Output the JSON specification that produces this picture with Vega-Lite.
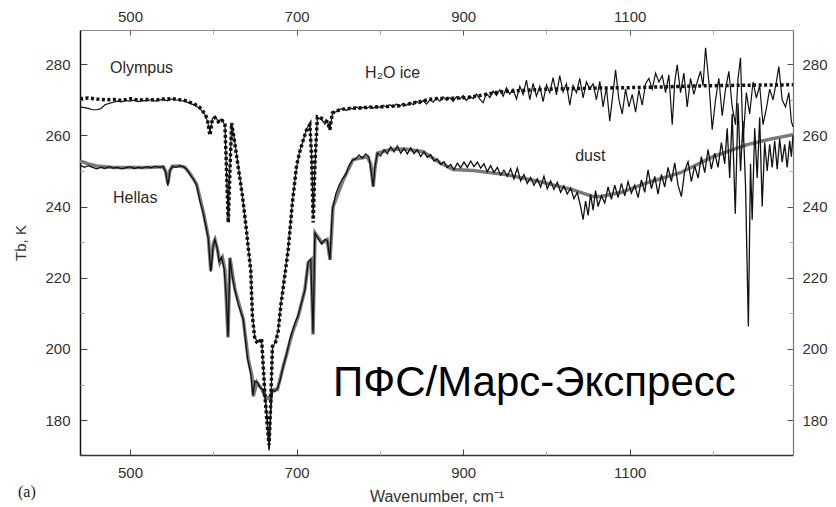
{
  "$schema": "https://vega.github.io/schema/vega-lite/v6.json",
  "width": 713,
  "height": 425,
  "autosize": {"type": "none"},
  "padding": {"left": 80, "top": 30, "right": 43, "bottom": 52},
  "background": "white",
  "config": {
    "view": {"stroke": null},
    "font": "Liberation Sans",
    "axis": {"grid": false, "labelFont": "Liberation Sans", "labelFontSize": 15, "labelColor": "#333", "titleFont": "Liberation Sans", "titleFontSize": 15, "titleFontWeight": "normal", "titleColor": "#333", "format": "d"}
  },
  "datasets": {
    "om": [
      {"w":440,"t":270.3},{"w":450,"t":270.5},{"w":460,"t":270.2},{"w":470,"t":270.0},{"w":480,"t":270.1},{"w":490,"t":269.8},{"w":500,"t":270.3},{"w":510,"t":269.9},{"w":520,"t":270.1},{"w":530,"t":269.9},{"w":540,"t":270.2},{"w":550,"t":270.3},{"w":560,"t":270.0},{"w":566,"t":269.8},{"w":572,"t":269.3},{"w":578,"t":268.7},{"w":584,"t":267.8},{"w":590,"t":266.0},{"w":593,"t":264.5},{"w":596,"t":260.0},{"w":599,"t":264.5},{"w":602,"t":265.0},{"w":606,"t":263.8},{"w":610,"t":264.5},{"w":614,"t":263.0},{"w":616,"t":250.0},{"w":618,"t":235.5},{"w":620,"t":250.0},{"w":622,"t":263.5},{"w":625,"t":259.0},{"w":630,"t":251.0},{"w":635,"t":243.0},{"w":640,"t":233.0},{"w":642,"t":228.3},{"w":645,"t":222.0},{"w":647,"t":209.0},{"w":650,"t":202.5},{"w":654,"t":201.5},{"w":658,"t":203.0},{"w":662,"t":187.0},{"w":665,"t":178.0},{"w":667,"t":173.0},{"w":669,"t":185.0},{"w":671,"t":200.7},{"w":675,"t":202.0},{"w":678,"t":205.0},{"w":681,"t":212.0},{"w":685,"t":219.0},{"w":690,"t":228.0},{"w":695,"t":241.0},{"w":700,"t":251.5},{"w":704,"t":255.5},{"w":708,"t":258.7},{"w":712,"t":261.5},{"w":716,"t":263.0},{"w":718,"t":254.0},{"w":720,"t":235.5},{"w":722,"t":252.0},{"w":725,"t":265.2},{"w":730,"t":264.8},{"w":737,"t":263.8},{"w":740,"t":261.6},{"w":743,"t":266.3},{"w":748,"t":266.8},{"w":752,"t":267.2},{"w":760,"t":267.5},{"w":780,"t":267.8},{"w":800,"t":268.0},{"w":824,"t":268.3},{"w":844,"t":269.3},{"w":864,"t":270.3},{"w":885,"t":270.4},{"w":905,"t":270.6},{"w":925,"t":271.4},{"w":944,"t":272.2},{"w":964,"t":272.5},{"w":984,"t":272.8},{"w":1005,"t":273.0},{"w":1025,"t":273.1},{"w":1045,"t":273.2},{"w":1065,"t":273.3},{"w":1100,"t":273.4},{"w":1137,"t":273.6},{"w":1185,"t":273.9},{"w":1240,"t":274.1},{"w":1296,"t":274.2}
    ],
    "ox": [
      {"w":440,"t":268.0},{"w":445,"t":267.8},{"w":450,"t":267.6},{"w":455,"t":267.2},{"w":460,"t":267.2},{"w":465,"t":267.5},{"w":470,"t":268.6},{"w":475,"t":269.0},{"w":480,"t":269.3},{"w":485,"t":269.6},{"w":490,"t":269.4},{"w":495,"t":269.8},{"w":500,"t":269.6},{"w":505,"t":269.9},{"w":510,"t":269.5},{"w":515,"t":269.8},{"w":520,"t":269.7},{"w":525,"t":270.0},{"w":530,"t":269.6},{"w":535,"t":269.9},{"w":540,"t":270.1},{"w":545,"t":269.7},{"w":550,"t":270.2},{"w":555,"t":270.0},{"w":560,"t":269.8},{"w":566,"t":269.6},{"w":572,"t":269.0},{"w":578,"t":268.5},{"w":584,"t":267.5},{"w":590,"t":265.8},{"w":593,"t":264.0},{"w":596,"t":261.0},{"w":599,"t":264.8},{"w":602,"t":265.3},{"w":606,"t":264.0},{"w":610,"t":264.6},{"w":614,"t":262.8},{"w":616,"t":249.0},{"w":618,"t":237.0},{"w":620,"t":251.0},{"w":622,"t":263.0},{"w":625,"t":259.5},{"w":630,"t":251.5},{"w":635,"t":243.0},{"w":640,"t":233.0},{"w":642,"t":228.5},{"w":645,"t":222.5},{"w":647,"t":210.0},{"w":650,"t":203.0},{"w":654,"t":202.0},{"w":658,"t":202.5},{"w":662,"t":188.0},{"w":665,"t":178.5},{"w":667,"t":172.0},{"w":669,"t":184.0},{"w":671,"t":200.0},{"w":675,"t":202.5},{"w":678,"t":205.5},{"w":681,"t":212.5},{"w":685,"t":219.5},{"w":690,"t":228.5},{"w":695,"t":241.5},{"w":700,"t":251.0},{"w":704,"t":255.8},{"w":708,"t":258.5},{"w":712,"t":261.8},{"w":716,"t":263.3},{"w":718,"t":255.0},{"w":720,"t":237.0},{"w":722,"t":251.0},{"w":725,"t":265.0},{"w":730,"t":264.5},{"w":734,"t":263.2},{"w":737,"t":264.0},{"w":740,"t":261.8},{"w":743,"t":266.0},{"w":747,"t":266.6},{"w":752,"t":267.3},
      {"w":756,"t":267.6},{"w":760,"t":267.0},{"w":764,"t":267.8},{"w":768,"t":267.4},{"w":772,"t":268.0},{"w":776,"t":267.3},{"w":780,"t":267.9},{"w":784,"t":267.5},{"w":788,"t":268.2},{"w":792,"t":267.6},{"w":796,"t":268.3},{"w":800,"t":267.8},{"w":804,"t":268.5},{"w":808,"t":267.9},{"w":812,"t":268.6},{"w":816,"t":268.0},{"w":820,"t":268.8},{"w":824,"t":268.2},{"w":828,"t":269.0},{"w":832,"t":268.4},{"w":836,"t":269.3},{"w":840,"t":268.6},{"w":844,"t":269.5},{"w":848,"t":268.9},{"w":852,"t":269.8},{"w":856,"t":268.8},{"w":860,"t":270.0},{"w":864,"t":269.3},{"w":868,"t":270.6},{"w":872,"t":269.6},{"w":876,"t":270.8},{"w":880,"t":269.9},{"w":884,"t":270.6},{"w":888,"t":269.5},{"w":892,"t":270.9},{"w":896,"t":270.2},{"w":900,"t":271.2},{"w":904,"t":269.8},{"w":908,"t":271.0},{"w":912,"t":270.3},{"w":916,"t":271.6},{"w":920,"t":270.2},{"w":924,"t":269.2},{"w":928,"t":271.8},{"w":932,"t":270.6},{"w":936,"t":272.4},{"w":940,"t":271.2},{"w":944,"t":272.8},{"w":948,"t":271.0},{"w":952,"t":273.4},{"w":956,"t":271.6},{"w":960,"t":273.0},{"w":964,"t":270.2},{"w":968,"t":273.8},{"w":972,"t":271.5},{"w":976,"t":275.5},{"w":980,"t":270.0},{"w":984,"t":274.6},{"w":988,"t":271.0},{"w":992,"t":273.8},{"w":996,"t":269.5},{"w":1000,"t":274.2},{"w":1004,"t":272.0},{"w":1008,"t":276.2},{"w":1012,"t":271.4},{"w":1016,"t":276.8},{"w":1020,"t":272.2},{"w":1024,"t":274.5},{"w":1028,"t":268.5},{"w":1032,"t":274.0},{"w":1036,"t":272.0},{"w":1040,"t":276.0},{"w":1044,"t":270.5},{"w":1048,"t":275.0},{"w":1052,"t":273.0},{"w":1056,"t":274.5},{"w":1060,"t":270.0},{"w":1064,"t":275.2},{"w":1068,"t":268.0},{"w":1072,"t":273.5},{"w":1076,"t":264.0},{"w":1080,"t":272.0},{"w":1083,"t":278.4},{"w":1087,"t":270.0},{"w":1091,"t":266.0},{"w":1095,"t":273.0},{"w":1099,"t":268.0},{"w":1103,"t":271.5},{"w":1107,"t":266.5},{"w":1111,"t":272.8},{"w":1115,"t":268.5},{"w":1119,"t":274.5},{"w":1123,"t":276.0},{"w":1127,"t":273.0},{"w":1131,"t":277.5},{"w":1135,"t":275.0},{"w":1139,"t":276.8},{"w":1143,"t":272.0},{"w":1147,"t":277.0},{"w":1151,"t":263.0},{"w":1154,"t":275.0},{"w":1157,"t":279.8},{"w":1161,"t":272.0},{"w":1165,"t":277.5},{"w":1169,"t":268.0},{"w":1173,"t":276.0},{"w":1177,"t":271.5},{"w":1181,"t":275.0},{"w":1185,"t":278.0},{"w":1188,"t":274.0},{"w":1191,"t":284.6},{"w":1195,"t":275.0},{"w":1199,"t":261.6},{"w":1203,"t":270.0},{"w":1207,"t":276.0},{"w":1211,"t":265.5},{"w":1215,"t":273.0},{"w":1219,"t":278.0},{"w":1223,"t":268.0},{"w":1227,"t":263.0},{"w":1230,"t":276.0},{"w":1233,"t":281.8},{"w":1236,"t":258.0},{"w":1240,"t":272.0},{"w":1244,"t":266.0},{"w":1248,"t":275.0},{"w":1252,"t":270.5},{"w":1256,"t":274.0},{"w":1260,"t":263.0},{"w":1264,"t":267.5},{"w":1268,"t":273.0},{"w":1272,"t":270.0},{"w":1276,"t":275.0},{"w":1279,"t":279.3},{"w":1283,"t":270.0},{"w":1287,"t":268.0},{"w":1291,"t":272.0},{"w":1294,"t":264.0},{"w":1296,"t":262.4}
    ],
    "hm": [
      {"w":440,"t":252.8},{"w":450,"t":252.0},{"w":460,"t":251.4},{"w":470,"t":251.2},{"w":480,"t":251.0},{"w":500,"t":251.0},{"w":520,"t":251.0},{"w":540,"t":251.2},{"w":543,"t":249.8},{"w":545.5,"t":246.5},{"w":548,"t":250.2},{"w":551,"t":251.3},{"w":560,"t":251.4},{"w":566,"t":251.0},{"w":572,"t":249.3},{"w":580,"t":246.3},{"w":588,"t":238.5},{"w":594,"t":231.5},{"w":597,"t":222.0},{"w":600,"t":229.5},{"w":602,"t":230.7},{"w":605,"t":228.0},{"w":608,"t":224.2},{"w":611,"t":225.6},{"w":614,"t":222.2},{"w":617.7,"t":203.2},{"w":620,"t":225.6},{"w":626,"t":216.7},{"w":636,"t":208.3},{"w":642,"t":197.1},{"w":646.5,"t":192.3},{"w":648,"t":186.7},{"w":652.5,"t":190.6},{"w":658.6,"t":188.6},{"w":662,"t":186.7},{"w":667,"t":186.0},{"w":670,"t":187.7},{"w":673,"t":188.6},{"w":677,"t":188.6},{"w":684,"t":195.0},{"w":695,"t":204.6},{"w":702,"t":209.1},{"w":710,"t":216.7},{"w":714,"t":224.2},{"w":717.4,"t":225.0},{"w":719.8,"t":204.0},{"w":722.2,"t":232.6},{"w":730.6,"t":229.8},{"w":736.6,"t":230.7},{"w":740.2,"t":225.1},{"w":743.8,"t":240.0},{"w":756,"t":247.5},{"w":768,"t":253.2},{"w":785,"t":254.0},{"w":789,"t":252.0},{"w":792,"t":245.6},{"w":794,"t":250.5},{"w":797,"t":255.0},{"w":812,"t":256.0},{"w":830,"t":256.2},{"w":852,"t":255.4},{"w":872,"t":252.3},{"w":888,"t":250.4},{"w":912,"t":250.1},{"w":953,"t":248.9},{"w":992,"t":247.0},{"w":1032,"t":244.7},{"w":1056,"t":242.8},{"w":1065,"t":242.8},{"w":1090,"t":244.0},{"w":1121,"t":246.7},{"w":1161,"t":249.5},{"w":1200,"t":254.0},{"w":1241,"t":257.4},{"w":1270,"t":259.0},{"w":1296,"t":260.2}
    ],
    "hx": [
      {"w":440,"t":251.7},{"w":445,"t":251.0},{"w":450,"t":251.5},{"w":455,"t":251.0},{"w":460,"t":250.6},{"w":465,"t":251.0},{"w":470,"t":250.7},{"w":475,"t":251.2},{"w":480,"t":250.8},{"w":485,"t":251.0},{"w":490,"t":250.6},{"w":495,"t":250.9},{"w":500,"t":251.2},{"w":505,"t":250.7},{"w":510,"t":251.0},{"w":515,"t":250.8},{"w":520,"t":251.2},{"w":525,"t":250.9},{"w":530,"t":251.3},{"w":535,"t":251.0},{"w":540,"t":251.2},{"w":543,"t":249.5},{"w":545.5,"t":245.8},{"w":548,"t":250.0},{"w":551,"t":251.3},{"w":555,"t":251.0},{"w":560,"t":251.5},{"w":564,"t":251.2},{"w":568,"t":250.5},{"w":572,"t":249.0},{"w":576,"t":247.8},{"w":580,"t":246.0},{"w":584,"t":241.5},{"w":588,"t":238.0},{"w":591,"t":234.5},{"w":594,"t":231.0},{"w":597,"t":221.7},{"w":600,"t":229.0},{"w":602,"t":230.7},{"w":604.5,"t":228.5},{"w":607,"t":224.5},{"w":610,"t":225.8},{"w":613,"t":222.5},{"w":615.5,"t":215.0},{"w":617.7,"t":203.5},{"w":620,"t":225.5},{"w":623,"t":220.0},{"w":626,"t":216.5},{"w":630,"t":212.5},{"w":636,"t":208.3},{"w":641,"t":197.5},{"w":645,"t":193.0},{"w":647.7,"t":187.0},{"w":650,"t":191.0},{"w":653,"t":190.5},{"w":656,"t":189.2},{"w":659,"t":188.5},{"w":662,"t":186.5},{"w":665,"t":180.0},{"w":667,"t":171.5},{"w":669,"t":182.0},{"w":671,"t":188.5},{"w":674,"t":188.0},{"w":677,"t":188.8},{"w":680,"t":191.0},{"w":684,"t":195.2},{"w":688,"t":198.5},{"w":692,"t":202.8},{"w":695,"t":205.0},{"w":698,"t":207.2},{"w":702,"t":209.5},{"w":706,"t":213.0},{"w":710,"t":216.5},{"w":714,"t":224.5},{"w":717,"t":225.2},{"w":719.8,"t":204.5},{"w":722,"t":232.5},{"w":726,"t":231.0},{"w":730,"t":229.5},{"w":734,"t":230.8},{"w":737,"t":230.5},{"w":740,"t":225.0},{"w":743,"t":239.0},{"w":747,"t":243.5},{"w":751,"t":246.0},{"w":755,"t":247.8},{"w":759,"t":249.0},{"w":763,"t":251.5},{"w":767,"t":253.0},{"w":771,"t":253.4},{"w":775,"t":254.5},{"w":779,"t":253.6},{"w":783,"t":254.8},{"w":787,"t":253.9},{"w":790,"t":249.0},{"w":792,"t":245.6},{"w":794,"t":251.0},{"w":797,"t":255.0},{"w":801,"t":254.2},{"w":805,"t":256.0},{"w":809,"t":254.8},{"w":813,"t":256.8},{"w":817,"t":255.3},{"w":821,"t":257.0},{"w":825,"t":255.0},{"w":829,"t":256.3},{"w":833,"t":254.8},{"w":837,"t":256.5},{"w":841,"t":254.9},{"w":845,"t":256.0},{"w":849,"t":254.0},{"w":853,"t":255.4},{"w":857,"t":253.8},{"w":861,"t":254.6},{"w":865,"t":252.8},{"w":869,"t":253.4},{"w":873,"t":251.8},{"w":877,"t":252.6},{"w":881,"t":251.0},{"w":885,"t":251.8},{"w":889,"t":250.4},{"w":893,"t":252.2},{"w":897,"t":250.9},{"w":901,"t":252.5},{"w":905,"t":251.0},{"w":909,"t":252.8},{"w":913,"t":251.2},{"w":917,"t":252.5},{"w":921,"t":250.8},{"w":925,"t":252.0},{"w":929,"t":249.8},{"w":933,"t":251.5},{"w":937,"t":249.6},{"w":941,"t":251.0},{"w":945,"t":248.8},{"w":949,"t":250.2},{"w":953,"t":248.5},{"w":957,"t":250.6},{"w":961,"t":247.8},{"w":965,"t":250.8},{"w":969,"t":247.2},{"w":973,"t":249.0},{"w":977,"t":246.5},{"w":981,"t":248.2},{"w":985,"t":246.0},{"w":989,"t":247.8},{"w":993,"t":245.5},{"w":997,"t":248.5},{"w":1001,"t":245.0},{"w":1005,"t":247.2},{"w":1009,"t":244.8},{"w":1013,"t":246.8},{"w":1017,"t":244.0},{"w":1021,"t":245.8},{"w":1025,"t":243.5},{"w":1029,"t":245.2},{"w":1033,"t":242.2},{"w":1037,"t":244.0},{"w":1041,"t":240.0},{"w":1044,"t":236.3},{"w":1047,"t":241.5},{"w":1050,"t":237.5},{"w":1053,"t":243.5},{"w":1056,"t":239.0},{"w":1059,"t":244.5},{"w":1062,"t":240.0},{"w":1066,"t":243.0},{"w":1070,"t":241.0},{"w":1074,"t":245.5},{"w":1078,"t":242.0},{"w":1082,"t":246.0},{"w":1086,"t":242.5},{"w":1090,"t":246.5},{"w":1094,"t":243.0},{"w":1098,"t":247.0},{"w":1102,"t":243.8},{"w":1106,"t":246.0},{"w":1110,"t":242.5},{"w":1114,"t":247.5},{"w":1118,"t":244.0},{"w":1122,"t":250.3},{"w":1126,"t":245.0},{"w":1130,"t":248.5},{"w":1134,"t":243.5},{"w":1138,"t":249.0},{"w":1142,"t":245.5},{"w":1146,"t":251.0},{"w":1150,"t":247.0},{"w":1154,"t":252.3},{"w":1158,"t":246.0},{"w":1162,"t":242.8},{"w":1166,"t":250.0},{"w":1170,"t":252.6},{"w":1174,"t":247.0},{"w":1178,"t":251.5},{"w":1182,"t":248.0},{"w":1186,"t":254.0},{"w":1190,"t":249.5},{"w":1194,"t":256.0},{"w":1198,"t":250.5},{"w":1202,"t":255.0},{"w":1206,"t":251.0},{"w":1210,"t":258.0},{"w":1214,"t":252.0},{"w":1217,"t":262.0},{"w":1220,"t":248.0},{"w":1223,"t":266.0},{"w":1226.7,"t":238.0},{"w":1230,"t":269.0},{"w":1233,"t":250.0},{"w":1236,"t":264.0},{"w":1239,"t":246.0},{"w":1242.4,"t":206.3},{"w":1245,"t":252.0},{"w":1247,"t":236.3},{"w":1250,"t":262.0},{"w":1253,"t":248.0},{"w":1256,"t":265.0},{"w":1259,"t":240.0},{"w":1262,"t":258.0},{"w":1265,"t":250.0},{"w":1268,"t":257.5},{"w":1271,"t":251.0},{"w":1274,"t":258.5},{"w":1277,"t":250.5},{"w":1280,"t":259.0},{"w":1283,"t":252.5},{"w":1286,"t":257.5},{"w":1289,"t":251.0},{"w":1292,"t":258.5},{"w":1294,"t":254.0},{"w":1296,"t":260.0}
    ],
    "ann": [
      {"w":476,"t":279.0,"label":"Olympus"},
      {"w":782.3,"t":277.6,"label":"H₂O ice"},
      {"w":1034.5,"t":254.3,"label":"dust"},
      {"w":479.6,"t":242.5,"label":"Hellas"}
    ],
    "big": [
      {"w":743.8,"t":186.7,"label":"ПФС/Марс-Экспресс"}
    ],
    "panel": [
      {"w":365.5,"t":159.7,"label":"(a)"}
    ]
  },
  "resolve": {"axis": {"x": "independent", "y": "independent"}},
  "layer": [
    {
      "data": {"name": "hm"},
      "mark": {"type": "line", "color": "#7a7a7a", "strokeWidth": 3.5},
      "encoding": {
        "x": {"field": "w", "type": "quantitative", "scale": {"domain": [440, 1296], "nice": false, "zero": false},
              "axis": {"orient": "bottom", "values": [500, 700, 900, 1100], "tickSize": -6, "tickColor": "#444", "domainColor": "#333", "domainWidth": 1.5, "labelPadding": 16, "title": "Wavenumber, cm⁻¹", "titleFontSize": 16, "titlePadding": 8}},
        "y": {"field": "t", "type": "quantitative", "scale": {"domain": [170.2, 289.6], "nice": false, "zero": false},
              "axis": {"orient": "left", "values": [180, 200, 220, 240, 260, 280], "tickSize": -7, "tickColor": "#444", "domainColor": "#111", "domainWidth": 1.5, "labelPadding": 17, "title": "Tb, K", "titlePadding": 16}}
      }
    },
    {
      "data": {"name": "hx"},
      "mark": {"type": "line", "color": "#111", "strokeWidth": 1.3},
      "encoding": {
        "x": {"field": "w", "type": "quantitative", "axis": null},
        "y": {"field": "t", "type": "quantitative", "axis": null}
      }
    },
    {
      "data": {"name": "ox"},
      "mark": {"type": "line", "color": "#111", "strokeWidth": 1.2},
      "encoding": {
        "x": {"field": "w", "type": "quantitative", "axis": null},
        "y": {"field": "t", "type": "quantitative", "axis": null}
      }
    },
    {
      "data": {"name": "om"},
      "mark": {"type": "line", "color": "#111", "strokeWidth": 3.5, "strokeDash": [3, 2.5]},
      "encoding": {
        "x": {"field": "w", "type": "quantitative",
              "axis": {"orient": "top", "values": [500, 700, 900, 1100], "tickSize": -5, "tickColor": "#555", "domainColor": "#888", "domainWidth": 1.2, "labelPadding": 11, "title": null}},
        "y": {"field": "t", "type": "quantitative",
              "axis": {"orient": "right", "values": [180, 200, 220, 240, 260, 280], "tickSize": -6, "tickColor": "#555", "domainColor": "#777", "domainWidth": 1.2, "labelPadding": 15, "title": null}}
      }
    },
    {
      "data": {"name": "ann"},
      "mark": {"type": "text", "align": "left", "baseline": "middle", "fontSize": 16, "color": "#2a2a2a", "font": "Liberation Sans"},
      "encoding": {
        "x": {"field": "w", "type": "quantitative",
              "axis": {"orient": "bottom", "values": [600, 800, 1000, 1200], "labels": false, "domain": false, "tickSize": -4, "tickColor": "#aaa", "title": null}},
        "y": {"field": "t", "type": "quantitative",
              "axis": {"orient": "left", "values": [190, 210, 230, 250, 270], "labels": false, "domain": false, "tickSize": -4, "tickColor": "#aaa", "title": null}},
        "text": {"field": "label"}
      }
    },
    {
      "data": {"name": "big"},
      "mark": {"type": "text", "align": "left", "baseline": "alphabetic", "fontSize": 42, "color": "#000", "font": "Liberation Sans"},
      "encoding": {
        "x": {"field": "w", "type": "quantitative",
              "axis": {"orient": "top", "values": [600, 800, 1000, 1200], "labels": false, "domain": false, "tickSize": -4, "tickColor": "#aaa", "title": null}},
        "y": {"field": "t", "type": "quantitative",
              "axis": {"orient": "right", "values": [190, 210, 230, 250, 270], "labels": false, "domain": false, "tickSize": -4, "tickColor": "#aaa", "title": null}},
        "text": {"field": "label"}
      }
    },
    {
      "data": {"name": "panel"},
      "mark": {"type": "text", "align": "left", "baseline": "middle", "fontSize": 16, "color": "#222", "font": "Liberation Serif"},
      "encoding": {
        "x": {"field": "w", "type": "quantitative", "axis": null},
        "y": {"field": "t", "type": "quantitative", "axis": null},
        "text": {"field": "label"}
      }
    }
  ]
}
